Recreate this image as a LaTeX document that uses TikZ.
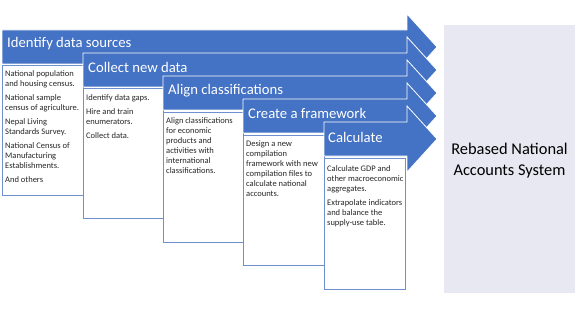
\documentclass[tikz,border=0pt]{standalone}
\usepackage{fontspec}
\setmainfont{Carlito}
\definecolor{arrowblue}{HTML}{4472C4}
\definecolor{boxline}{HTML}{6F90CF}
\definecolor{panelgray}{RGB}{232,232,242}
\tikzset{
  stagearrow/.style={fill=arrowblue, draw=white, line width=0.8pt, line join=miter},
  stagebox/.style={fill=white, draw=boxline, line width=0.8pt},
  stagehead/.style={anchor=west, inner sep=0pt, text=white, font=\fontsize{14.7}{16}\selectfont},
  stagetext/.style={anchor=north west, inner sep=0pt, align=left, text=black!85, font=\fontsize{8.5}{10}\selectfont},
}
\newcommand{\stagearr}[3]{% name, left x, top y
  \path[stagearrow] (#2,#3) -- (407,#3) -- (407,#3-16) -- (437,#3+17) -- (407,#3+50) -- (407,#3+34) -- (#2,#3+34) -- cycle;
}
\begin{document}
\begin{tikzpicture}[x=1pt,y=-1pt]
\useasboundingbox (0,0) rectangle (578,326);
% right panel
\fill[panelgray] (444,25) rectangle (575,293);
\node[align=center, inner sep=0pt, font=\fontsize{16.4}{21}\selectfont] (result) at (509.5,160.5) {Rebased National\\Accounts System};

% stage 1
\stagearr{a1}{2}{30}
\node[stagehead] (h1) at (7,44) {Identify data sources};
\draw[stagebox] (2,65) rectangle (83,195);
\node[stagetext] (t1) at (5,70.5) {National population\\and housing census.\\[4pt]National sample\\census of agriculture.\\[4pt]Nepal Living\\Standards Survey.\\[4pt]National Census of\\Manufacturing\\Establishments.\\[4pt]And others};

% stage 2
\stagearr{a2}{83}{53}
\node[stagehead] (h2) at (88,67.5) {Collect new data};
\draw[stagebox] (83,88) rectangle (163,218);
\node[stagetext] (t2) at (86,94.5) {Identify data gaps.\\[4pt]Hire and train\\enumerators.\\[4pt]Collect data.};

% stage 3
\stagearr{a3}{163}{76}
\node[stagehead] (h3) at (168,90.5) {Align classifications};
\draw[stagebox] (163,112) rectangle (243,242);
\node[stagetext] (t3) at (166,117.5) {Align classifications\\for economic\\products and\\activities with\\international\\classifications.};

% stage 4
\stagearr{a4}{243}{99}
\node[stagehead] (h4) at (248,113.5) {Create a framework};
\draw[stagebox] (243,135) rectangle (324,265.5);
\node[stagetext] (t4) at (246,140.5) {Design a new\\compilation\\framework with new\\compilation files to\\calculate national\\accounts.};

% stage 5
\stagearr{a5}{324}{122}
\node[stagehead] (h5) at (328,137.5) {Calculate};
\draw[stagebox] (324,158) rectangle (405,289);
\node[stagetext] (t5) at (327,165) {Calculate GDP and\\other macroeconomic\\aggregates.\\[4pt]Extrapolate indicators\\and balance the\\supply-use table.};
\end{tikzpicture}
\end{document}
